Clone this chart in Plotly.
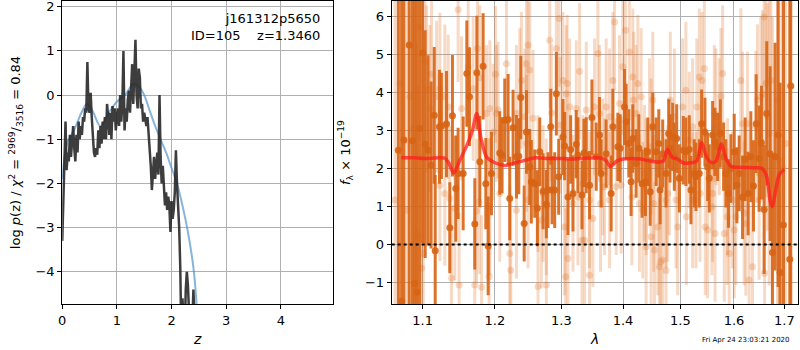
import numpy as np
import plotly.graph_objects as go

# ---------------- left panel data: log p(z) ----------------
z_grid = [round(0.02 * i, 2) for i in range(122)]
logp = [-3.3, -2.4, -1.8, -0.6, -1.7, -1.3, -1.5, -0.9, -1.4, -1.1,
        -0.7, -1.2, -1.5, -0.9, -1.3, -0.6, -1.0, -0.7, -0.9, -0.5,
        -0.6, -0.3, -0.4, 0.75, -0.3, -0.4, 0.05, -0.5, -0.9, -1.3,
        -1.4, -1.2, -1.35, -0.8, -1.2, -0.7, -1.1, -0.6, -1.0, -0.5,
        -1.0, -0.2, -0.5, -0.9, -0.4, -1.0, -0.25, -0.6, -0.3, -0.8,
        -0.5, -0.3, -0.7, 0.0, -0.6, -0.2, 1.0, -0.8, -0.3, -0.6,
        -0.1, 0.1, -0.4, 0.2, 0.7, -0.2, 0.9, 1.25, 0.0, -0.3,
        0.6, 0.4, -0.3, -0.2, -0.6, -0.4, -0.55, -0.7, -0.5, -0.8,
        -1.2, -1.6, -2.15, -1.8, -1.4, -1.9, -1.6, -1.3, -1.8, 0.0,
        -1.4, -2.0, -1.6, -2.2, -2.5, -2.2, -2.6, -2.3, -2.5, -3.1,
        -2.4, -2.8, -2.6, -2.2, -1.25, -2.0, -2.4, -3.0, -3.9, -5.5,
        -4.6, -5.2, -5.6, -4.4, -4.0, -4.3, -5.0, -5.5, -4.9, -5.2,
        -4.4, -5.0]

z_smooth = [0.0, 0.05, 0.1, 0.15, 0.25, 0.35, 0.45, 0.55, 0.7, 0.85, 1.0,
            1.15, 1.3, 1.4, 1.5, 1.6, 1.7, 1.8, 1.9, 2.0, 2.1, 2.2, 2.3, 2.4, 2.46]
logp_smooth = [-1.9, -1.35, -1.05, -0.95, -0.7, -0.4, -0.2, -0.35, -0.7, -0.4, -0.15,
               0.0, 0.25, 0.2, 0.0, -0.35, -0.7, -1.0, -1.3, -1.65, -2.0, -2.5, -3.1, -3.9, -4.75]

# ---------------- right panel data: spectrum ----------------
dark_wave = [1.0683, 1.0726, 1.0756, 1.0824, 1.0867, 1.0897, 1.0926, 1.0961, 1.1000, 1.1034,
             1.1073, 1.1113, 1.1155, 1.1168, 1.1225, 1.1252, 1.1321, 1.1366, 1.1402, 1.1448,
             1.1480, 1.1550, 1.1601, 1.1638, 1.1713, 1.1742, 1.1784, 1.1831, 1.1869, 1.1903,
             1.1950, 1.2070, 1.2104, 1.2143, 1.2192, 1.2216, 1.2265, 1.2315, 1.2350, 1.2380,
             1.2430, 1.2465, 1.2513, 1.2538, 1.2589, 1.2629, 1.2665, 1.2716, 1.2766, 1.2792,
             1.2834, 1.2854, 1.2895, 1.2921, 1.2957, 1.3024, 1.3050, 1.3103, 1.3145, 1.3182,
             1.3234, 1.3261, 1.3325, 1.3357, 1.3394, 1.3448, 1.3486, 1.3556, 1.3610, 1.3637,
             1.3719, 1.3802, 1.3830, 1.3913, 1.3952, 1.4025, 1.4053, 1.4098, 1.4137, 1.4166,
             1.4223, 1.4269, 1.4326, 1.4383, 1.4424, 1.4465, 1.4511, 1.4570, 1.4616, 1.4639,
             1.4685, 1.4744, 1.4791, 1.4815, 1.4862, 1.4892, 1.4934, 1.4982, 1.5053, 1.5101,
             1.5162, 1.5193, 1.5254, 1.5285, 1.5346, 1.5389, 1.5451, 1.5501, 1.5532, 1.5594,
             1.5638, 1.5689, 1.5739, 1.5802, 1.5846, 1.5896, 1.5941, 1.6005, 1.6056, 1.6101,
             1.6166, 1.6217, 1.6275, 1.6328, 1.6380, 1.6433, 1.6492, 1.6538, 1.6591, 1.6644,
             1.6711, 1.6758, 1.6812, 1.6873, 1.6913, 1.6981, 1.7112, 1.7132]
dark_flux = [2.48, -1.5, 2.75, 5.25, 2.73, -1.03, -1.26, 3.05, 5.04, 2.64,
             2.48, 2.09, 3.4, -0.17, 3.1, 3.12, 3.17, 0.44, 3.39, 1.47,
             1.87, 1.87, 4.5, 3.89, 0.54, 4.52, 2.18, 4.69, 1.6, -0.04,
             1.87, 2.41, 2.35, 3.27, 3.29, 1.21, 3.07, 2.31, 2.32, 3.87,
             0.55, 2.96, 2.04, 1.65, 1.6, 0.95, 2.44, 1.4, 1.06, 1.43,
             3.1, 1.43, 1.43, 3.97, 1.78, 2.83, 2.59, 1.25, 2.5, 1.34,
             2.64, 2.35, 1.3, 2.41, 2.35, 1.56, 3.34, 2.31, 2.88, 1.87,
             2.39, 1.34, 3.1, 2.57, 2.53, 3.62, 3.23, 2.66, 1.65, 2.79,
             2.13, 2.53, 1.6, 1.65, 2.44, 1.39, 3.1, 2.44, 2.66, 1.43,
             2.39, 1.87, 2.92, 2.53, 2.83, 2.31, 2.79, 1.74, 2.48, 2.44,
             2.5, 1.43, 1.87, 1.78, 1.87, 3.18, 2.96, 2.04, 1.74, 2.88,
             2.7, 2.57, 2.92, 2.31, 1.87, 1.34, 2.0, 2.44, 1.56, 1.87,
             1.24, 2.24, 1.34, 2.31, 1.54, 3.18, 2.26, 2.68, 0.92, 3.45,
             2.39, -0.21, 2.31, 2.88, -0.74, 0.51, -0.39, 4.17]
dark_err = [8, 8, 8, 8, 8, 8, 8, 6, 5, 3,
            2.5, 2.2, 1.8, 2.0, 1.5, 1.4, 1.4, 1.2, 1.6, 1.4,
            1.2, 1.5, 1.4, 1.3, 1.2, 1.5, 1.2, 1.4, 1.2, 1.3,
            1.1, 1.1, 1.0, 1.1, 1.2, 1.1, 1.0, 1.1, 1.0, 1.1,
            1.0, 1.1, 1.0, 1.1, 0.9, 1.0, 0.9, 1.0, 0.9, 1.0,
            1.0, 0.9, 1.0, 1.1, 1.0, 1.0, 0.9, 1.0, 0.9, 1.0,
            0.9, 1.0, 0.9, 0.9, 1.0, 0.9, 1.0, 0.9, 1.0, 0.9,
            0.9, 1.0, 1.0, 0.9, 0.9, 1.0, 1.0, 0.9, 0.9, 0.9,
            0.9, 0.9, 0.9, 0.9, 0.9, 0.9, 0.9, 0.9, 0.9, 0.9,
            0.9, 0.9, 0.9, 0.9, 0.9, 0.9, 0.9, 0.9, 0.9, 0.9,
            0.9, 0.9, 0.9, 0.9, 0.9, 0.9, 0.9, 0.9, 0.9, 0.9,
            0.9, 0.9, 0.9, 0.9, 0.9, 0.9, 0.9, 1.0, 1.0, 1.0,
            1.1, 1.1, 1.1, 1.2, 1.2, 1.3, 1.4, 1.5, 1.7, 1.9,
            2.3, 2.6, 3.0, 4, 5, 6, 8, 8]

light_wave = [1.0640, 1.0704, 1.0799, 1.0833, 1.0877, 1.0921, 1.0943, 1.0965, 1.0987, 1.1009,
              1.1031, 1.1053, 1.1097, 1.1119, 1.1186, 1.1231, 1.1231, 1.1298, 1.1298, 1.1344,
              1.1366, 1.1389, 1.1435, 1.1480, 1.1494, 1.1527, 1.1620, 1.1690, 1.1713, 1.1737,
              1.1751, 1.1775, 1.1784, 1.1808, 1.1879, 1.1903, 1.1917, 1.1927, 1.1974, 1.2008,
              1.2070, 1.2168, 1.2216, 1.2231, 1.2315, 1.2364, 1.2389, 1.2439, 1.2464, 1.2513,
              1.2488, 1.2563, 1.2639, 1.2690, 1.2716, 1.2766, 1.2818, 1.2844, 1.2921, 1.2963,
              1.2973, 1.3024, 1.3050, 1.3076, 1.3103, 1.3066, 1.3129, 1.3182, 1.3261, 1.3287,
              1.3340, 1.3367, 1.3448, 1.3448, 1.3502, 1.3583, 1.3610, 1.3665, 1.3719, 1.3775,
              1.3830, 1.3858, 1.3886, 1.3941, 1.3997, 1.4042, 1.4109, 1.4166, 1.4223, 1.4252,
              1.4309, 1.4366, 1.4395, 1.4453, 1.4482, 1.4511, 1.4540, 1.4598, 1.4627, 1.4685,
              1.4744, 1.4803, 1.4892, 1.4952, 1.5041, 1.5101, 1.5162, 1.5223, 1.5285, 1.5346,
              1.5395, 1.5439, 1.5457, 1.5501, 1.5594, 1.5657, 1.5720, 1.5783, 1.5814, 1.5877,
              1.5909, 1.5973, 1.6037, 1.6133, 1.6166, 1.6230, 1.6295, 1.6361, 1.6427, 1.6492,
              1.6558, 1.6591, 1.6625, 1.6658, 1.6692, 1.6759, 1.6860, 1.6893, 1.6961, 1.7029,
              1.1927, 1.2022, 1.2046, 1.2315, 1.2464, 1.2488, 1.2639, 1.2766, 1.3090, 1.3234,
              1.3325, 1.3394, 1.3529, 1.3626, 1.3692, 1.3775, 1.3969, 1.4180, 1.4150, 1.4280,
              1.4338, 1.4395, 1.4482, 1.4525, 1.4650, 1.4744, 1.4774, 1.4820, 1.4922, 1.5110,
              1.5223, 1.5300, 1.5360, 1.5625, 1.5751, 1.5870, 1.6262, 1.6460, 1.6525, 1.6600,
              1.6726, 1.6198, 1.6005, 1.5640, 1.5580]
light_flux = [1.17, 4.24, 0.9, 3.89, 3.05, 0.29, 0.18, 5.73, -0.63, -0.24,
              4.82, 4.1, 3.58, 4.48, 3.89, 4.1, 1.56, 1.34, 3.89, 3.62,
              1.21, -0.89, 0.95, 6.18, -1.07, 3.58, 4.68, 4.1, -1.07, 0.88,
              5.16, 1.12, 4.39, -1.13, 3.45, 0.99, -0.85, 3.58, 2.96, 4.48,
              1.34, 4.76, -0.24, -0.68, 3.45, 3.89, 4.32, 3.36, 2.66, 4.59,
              1.17, 3.32, 1.6, 0.64, 1.34, 0.99, 5.38, 3.47, 5.16, 5.95,
              3.14, 4.32, 0.46, 3.97, -0.37, -0.85, 3.62, 1.08, 1.25, 4.56,
              1.6, 0.11, 1.17, -0.81, 0.68, 5.03, 3.45, 2.04, 3.62, 1.17,
              4.32, 5.86, 1.52, 3.71, 4.68, 5.64, 5.07, 4.41, 3.45, 4.24,
              3.89, 1.87, -0.06, 3.1, 2.57, 3.8, -0.15, 0.46, -0.59, -0.41,
              1.17, 2.04, 3.36, 0.46, 3.62, 4.06, 2.75, 3.1, 1.17, 4.41,
              4.32, 4.63, 0.46, 0.38, 1.34, 3.36, 3.1, 4.5, 0.29, 1.52,
              -0.24, 1.17, 0.73, 4.32, 3.18, 0.55, -0.94, -0.59, 3.1, 1.17,
              3.97, 5.99, 4.24, 3.36, 2.92, 0.99, 3.8, 2.22, 2.04, 2.66,
              0.99, 3.45, 3.54, 0.9, 4.76, 5.25, -1.11, -1.07, 4.24, 3.58,
              0.11, 3.54, 3.62, 1.08, 1.52, 3.36, 1.56, 3.8, 1.25, 1.08,
              0.9, 1.52, 0.2, 1.08, -0.46, -0.69, 1.34, 3.8, 1.17, 0.73,
              1.17, 3.62, 1.34, 3.45, 3.9, 0.73, 3.18, 3.8, 3.89, -0.76,
              4.32, 0.82, 0.38, 0.29, 0.99]
light_err = [8, 8, 8, 8, 6, 5, 4, 3, 3, 2.5,
             2.5, 2.2, 2.2, 2.2, 2.0, 2.0, 2.0, 1.9, 1.9, 1.9,
             1.9, 1.9, 1.9, 1.9, 1.9, 1.9, 1.9, 1.9, 1.9, 1.9,
             1.9, 1.9, 1.9, 1.9, 1.8, 1.8, 1.8, 1.8, 1.8, 1.8,
             1.8, 1.8, 1.8, 1.8, 1.8, 1.8, 1.8, 1.8, 1.8, 1.8,
             1.8, 1.8, 1.8, 1.8, 1.8, 1.8, 1.8, 1.8, 1.8, 1.8,
             1.8, 1.8, 1.8, 1.8, 1.8, 1.8, 1.8, 1.8, 1.8, 1.8,
             1.8, 1.8, 1.8, 1.8, 1.8, 1.8, 1.8, 1.8, 1.8, 1.8,
             1.8, 1.8, 1.8, 1.8, 1.8, 1.8, 1.8, 1.8, 1.8, 1.8,
             1.8, 1.8, 1.8, 1.8, 1.8, 1.8, 1.8, 1.8, 1.8, 1.8,
             1.8, 1.8, 1.8, 1.8, 1.8, 1.8, 1.8, 1.8, 1.8, 1.8,
             1.8, 1.8, 1.8, 1.8, 1.8, 1.8, 1.8, 1.8, 1.8, 1.8,
             1.8, 1.8, 1.8, 1.9, 1.9, 1.9, 2.0, 2.0, 2.0, 2.1,
             2.2, 2.6, 3, 3, 4, 5, 6, 8, 8, 8,
             1.8, 1.8, 1.8, 1.8, 1.8, 1.8, 1.8, 1.8, 1.8, 1.8,
             1.8, 1.8, 1.8, 1.8, 1.8, 1.8, 1.8, 1.8, 1.8, 1.8,
             1.8, 1.8, 1.8, 1.8, 1.8, 1.8, 1.8, 1.8, 1.8, 1.8,
             1.8, 1.8, 1.8, 1.8, 1.8, 1.8, 1.9, 2.0, 2.1, 2.3,
             2.8, 1.9, 1.8, 1.8, 1.8]

model_wave = [1.072, 1.09, 1.105, 1.12, 1.13, 1.135, 1.142, 1.15, 1.16, 1.168,
              1.174, 1.18, 1.188, 1.20, 1.215, 1.23, 1.245, 1.26, 1.28, 1.30,
              1.32, 1.34, 1.365, 1.372, 1.379, 1.39, 1.40, 1.43, 1.445, 1.46,
              1.47, 1.477, 1.485, 1.495, 1.505, 1.52, 1.53, 1.539, 1.548, 1.558,
              1.566, 1.576, 1.585, 1.595, 1.61, 1.64, 1.655, 1.664, 1.672, 1.676,
              1.682, 1.69, 1.70]
model_flux = [2.28, 2.28, 2.26, 2.28, 2.27, 2.15, 1.88, 2.2, 2.6, 3.0,
              3.45, 2.8, 2.3, 2.15, 2.08, 2.15, 2.22, 2.28, 2.26, 2.26,
              2.25, 2.27, 2.27, 2.2, 2.05, 2.2, 2.25, 2.25, 2.2, 2.17,
              2.2, 2.5, 2.3, 2.25, 2.15, 2.15, 2.2, 2.68, 2.3, 2.15,
              2.2, 2.65, 2.25, 2.05, 2.03, 2.02, 2.0, 1.8, 1.1, 1.0,
              1.4, 1.85, 1.97]

z_ticks = [0, 1, 2, 3, 4]
logp_ticks = [-4, -3, -2, -1, 0, 1, 2]
wave_ticks = [1.1, 1.2, 1.3, 1.4, 1.5, 1.6, 1.7]
flux_ticks = [-1, 0, 1, 2, 3, 4, 5, 6]

FONT = "DejaVu Sans"
DARK = "rgba(215,100,20,0.9)"
LIGHT = "rgba(225,120,45,0.27)"

fig = go.Figure()

# left panel
fig.add_trace(go.Scatter(x=z_smooth, y=logp_smooth, mode="lines",
                         line=dict(color="rgba(70,140,200,0.65)", width=2, shape="spline"),
                         xaxis="x", yaxis="y", showlegend=False))
fig.add_trace(go.Scatter(x=z_grid, y=logp, mode="lines",
                         line=dict(color="rgba(40,40,40,0.9)", width=2.5),
                         xaxis="x", yaxis="y", showlegend=False))

# right panel
fig.add_trace(go.Scatter(x=light_wave, y=light_flux, mode="markers",
                         marker=dict(color=LIGHT, size=7),
                         error_y=dict(type="data", array=light_err, color=LIGHT,
                                      thickness=3, width=0),
                         xaxis="x2", yaxis="y2", showlegend=False))
fig.add_trace(go.Scatter(x=dark_wave, y=dark_flux, mode="markers",
                         marker=dict(color=DARK, size=7),
                         error_y=dict(type="data", array=dark_err, color=DARK,
                                      thickness=3, width=0),
                         xaxis="x2", yaxis="y2", showlegend=False))
fig.add_trace(go.Scatter(x=model_wave, y=model_flux, mode="lines",
                         line=dict(color="rgba(255,30,30,0.75)", width=3.5, shape="spline",
                                   smoothing=0.8),
                         xaxis="x2", yaxis="y2", showlegend=False))
fig.add_shape(type="line", xref="x2 domain", yref="y2", x0=0, x1=1, y0=0, y1=0,
              line=dict(color="black", width=2, dash="dot"))

axis_common = dict(showline=True, linecolor="black", linewidth=1, mirror=True,
                   ticks="outside", ticklen=4, tickcolor="black",
                   showgrid=True, gridcolor="#b0b0b0", gridwidth=1, zeroline=False,
                   automargin=False, ticklabeloverflow="allow",
                   tickfont=dict(family=FONT, size=13, color="black"))

fig.update_layout(
    width=800, height=350,
    margin=dict(l=0, r=0, t=0, b=0, autoexpand=False),
    paper_bgcolor="white", plot_bgcolor="white",
    font=dict(family=FONT, size=13, color="black"),
    xaxis=dict(domain=[0.0778, 0.4166], range=[0, 4.96], tickvals=z_ticks,
               title=dict(text="<i>z</i>", standoff=7, font=dict(size=14)),
               anchor="y", **axis_common),
    yaxis=dict(domain=[0.1314, 0.9971], range=[-4.73, 2.13], tickvals=logp_ticks,
               title=dict(text="log <i>p</i>(z) / <i>χ</i><sup>2</sup> = <sup>2969</sup>/<sub>3516</sub> = 0.84",
                          standoff=11, font=dict(size=13)),
               anchor="x", **axis_common),
    xaxis2=dict(domain=[0.4896, 0.998], type="log",
                range=[np.log10(1.0598), np.log10(1.729)],
                tickvals=wave_ticks, ticktext=[f"{v:.1f}" for v in wave_ticks],
                title=dict(text="<i>λ</i>", standoff=7, font=dict(size=14)),
                anchor="y2", **axis_common),
    yaxis2=dict(domain=[0.1314, 0.9971], range=[-1.57, 6.41], tickvals=flux_ticks,
                title=dict(text="<i>f</i><sub>λ</sub> × 10<sup>−19</sup>", standoff=11,
                           font=dict(size=13)),
                anchor="x2", **axis_common),
)

fig.add_annotation(text="j161312p5650<br>ID=105\u00a0\u00a0\u00a0\u00a0z=1.3460",
                   xref="x domain", yref="y domain", x=0.96, y=0.975,
                   xanchor="right", yanchor="top", align="right", showarrow=False,
                   font=dict(family=FONT, size=13, color="black"))
fig.add_annotation(text="Fri Apr 24 23:03:21 2020", xref="paper", yref="paper",
                   x=0.932, y=0.028, xanchor="center", yanchor="middle", showarrow=False,
                   font=dict(family=FONT, size=7, color="black"))

fig.write_html("out.html", config={"displayModeBar": False},
               post_script="document.body.style.margin='0';")
